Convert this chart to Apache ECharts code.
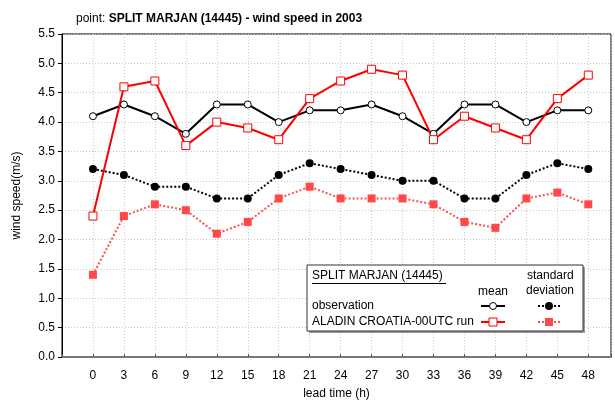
<!DOCTYPE html>
<html>
<head>
<meta charset="utf-8">
<script src="https://cdn.jsdelivr.net/npm/echarts@6/dist/echarts.min.js"></script>
<style>
  html, body { margin: 0; padding: 0; background: #fff; }
  #chart { width: 615px; height: 407px; }
</style>
</head>
<body>
<div id="chart"></div>
<script>
// lead times (h)
const leadTimes = [0, 3, 6, 9, 12, 15, 18, 21, 24, 27, 30, 33, 36, 39, 42, 45, 48]
// observation
const obsMean = [4.1, 4.3, 4.1, 3.8, 4.3, 4.3, 4.0, 4.2, 4.2, 4.3, 4.1, 3.8, 4.3, 4.3, 4.0, 4.2, 4.2]
const obsStd = [3.2, 3.1, 2.9, 2.9, 2.7, 2.7, 3.1, 3.3, 3.2, 3.1, 3.0, 3.0, 2.7, 2.7, 3.1, 3.3, 3.2]
// ALADIN CROATIA-00UTC run
const aladinMean = [2.4, 4.6, 4.7, 3.6, 4.0, 3.9, 3.7, 4.4, 4.7, 4.9, 4.8, 3.7, 4.1, 3.9, 3.7, 4.4, 4.8]
const aladinStd = [1.4, 2.4, 2.6, 2.5, 2.1, 2.3, 2.7, 2.9, 2.7, 2.7, 2.7, 2.6, 2.3, 2.2, 2.7, 2.8, 2.6]

const font = 'Liberation Sans, Arial, sans-serif'
const pairs = (ys) => leadTimes.map((x, i) => [x, ys[i]])

const chart = echarts.init(document.getElementById('chart'))

chart.setOption({
  animation: false,
  backgroundColor: '#fff',
  textStyle: { fontFamily: font },
  title: {
    left: 71,
    top: 8,
    text: '{a|point: }{b|SPLIT MARJAN (14445) - wind speed in 2003}',
    textStyle: {
      fontWeight: 'normal',
      rich: {
        a: { fontFamily: font, fontSize: 12, fontWeight: 'normal', color: '#000' },
        b: { fontFamily: font, fontSize: 12, fontWeight: 'bold', color: '#000' }
      }
    }
  },
  grid: {
    left: 62, right: 4, top: 34, bottom: 50,
    show: true, borderColor: '#000', borderWidth: 1
  },
  xAxis: {
    type: 'value',
    min: -3,
    max: 50.2,
    interval: 3,
    name: 'lead time (h)',
    nameLocation: 'middle',
    nameGap: 31,
    nameTextStyle: { fontSize: 12, color: '#000', fontFamily: font },
    axisLine: { onZero: false, lineStyle: { color: '#777', width: 2 } },
    axisTick: { inside: true, length: 3, lineStyle: { color: '#555' } },
    axisLabel: {
      fontSize: 12, color: '#000', margin: 13, fontFamily: font,
      formatter: (v) => (v < 0 || v > 48 ? '' : String(v))
    },
    splitLine: { lineStyle: { color: '#c8c8c8', type: [1, 2] } }
  },
  yAxis: {
    type: 'value',
    min: 0,
    max: 5.5,
    interval: 0.5,
    name: 'wind speed(m/s)',
    nameLocation: 'middle',
    nameGap: 39,
    nameTextStyle: { fontSize: 12, color: '#000', fontFamily: font },
    axisLine: { show: true, onZero: false, lineStyle: { color: '#000' } },
    axisTick: { show: true, length: 4, lineStyle: { color: '#000' } },
    axisLabel: {
      fontSize: 12, color: '#000', margin: 7, fontFamily: font,
      formatter: (v) => v.toFixed(1)
    },
    splitLine: { lineStyle: { color: '#c8c8c8', type: [1, 2] } }
  },
  series: [
    {
      name: 'obs std', type: 'line', data: pairs(obsStd),
      lineStyle: { color: '#000', width: 2, type: [2, 2] },
      symbol: 'circle', symbolSize: 8,
      itemStyle: { color: '#000' }
    },
    {
      name: 'aladin std', type: 'line', data: pairs(aladinStd),
      lineStyle: { color: '#ff5050', width: 2, type: [2, 2] },
      symbol: 'rect', symbolSize: 8,
      itemStyle: { color: '#ff4848' }
    },
    {
      name: 'obs mean', type: 'line', data: pairs(obsMean),
      lineStyle: { color: '#000', width: 2 },
      symbol: 'circle', symbolSize: 7,
      itemStyle: { color: '#fff', borderColor: '#000', borderWidth: 1 }
    },
    {
      name: 'aladin mean', type: 'line', data: pairs(aladinMean),
      lineStyle: { color: '#ff0000', width: 2 },
      symbol: 'rect', symbolSize: 8,
      itemStyle: { color: '#fff', borderColor: '#ff0000', borderWidth: 1 }
    }
  ],
  graphic: [
    // legend box
    { type: 'rect', shape: { x: 309, y: 267, width: 276, height: 66 }, style: { fill: '#999' }, z: 10 },
    { type: 'rect', shape: { x: 307, y: 265, width: 276, height: 66 }, style: { fill: '#fff', stroke: '#333', lineWidth: 1 }, z: 11 },
    { type: 'text', x: 312, y: 270, style: { text: 'SPLIT MARJAN (14445)', font: '12px ' + font, fill: '#000' }, z: 12 },
    { type: 'line', shape: { x1: 312, y1: 283.5, x2: 446, y2: 283.5 }, style: { stroke: '#000', lineWidth: 1 }, z: 12 },
    { type: 'text', x: 478, y: 286, style: { text: 'mean', font: '12px ' + font, fill: '#000' }, z: 12 },
    { type: 'text', x: 527, y: 270, style: { text: 'standard', font: '12px ' + font, fill: '#000' }, z: 12 },
    { type: 'text', x: 526, y: 285, style: { text: 'deviation', font: '12px ' + font, fill: '#000' }, z: 12 },
    { type: 'text', x: 312, y: 300, style: { text: 'observation', font: '12px ' + font, fill: '#000' }, z: 12 },
    { type: 'text', x: 312, y: 316, style: { text: 'ALADIN CROATIA-00UTC run', font: '12px ' + font, fill: '#000' }, z: 12 },
    // legend symbols
    { type: 'line', shape: { x1: 481, y1: 306, x2: 505, y2: 306 }, style: { stroke: '#000', lineWidth: 2 }, z: 12 },
    { type: 'circle', shape: { cx: 493, cy: 306, r: 3.5 }, style: { fill: '#fff', stroke: '#000', lineWidth: 1 }, z: 13 },
    { type: 'line', shape: { x1: 538, y1: 306, x2: 561, y2: 306 }, style: { stroke: '#000', lineWidth: 2, lineDash: [2, 2] }, z: 12 },
    { type: 'circle', shape: { cx: 549, cy: 306, r: 4 }, style: { fill: '#000' }, z: 13 },
    { type: 'line', shape: { x1: 481, y1: 322, x2: 505, y2: 322 }, style: { stroke: '#ff0000', lineWidth: 2 }, z: 12 },
    { type: 'rect', shape: { x: 489, y: 318, width: 8, height: 8 }, style: { fill: '#fff', stroke: '#ff0000', lineWidth: 1 }, z: 13 },
    { type: 'line', shape: { x1: 538, y1: 322, x2: 561, y2: 322 }, style: { stroke: '#ff5050', lineWidth: 2, lineDash: [2, 2] }, z: 12 },
    { type: 'rect', shape: { x: 545, y: 318, width: 8, height: 8 }, style: { fill: '#ff4848' }, z: 13 }
  ]
})
</script>
</body>
</html>
